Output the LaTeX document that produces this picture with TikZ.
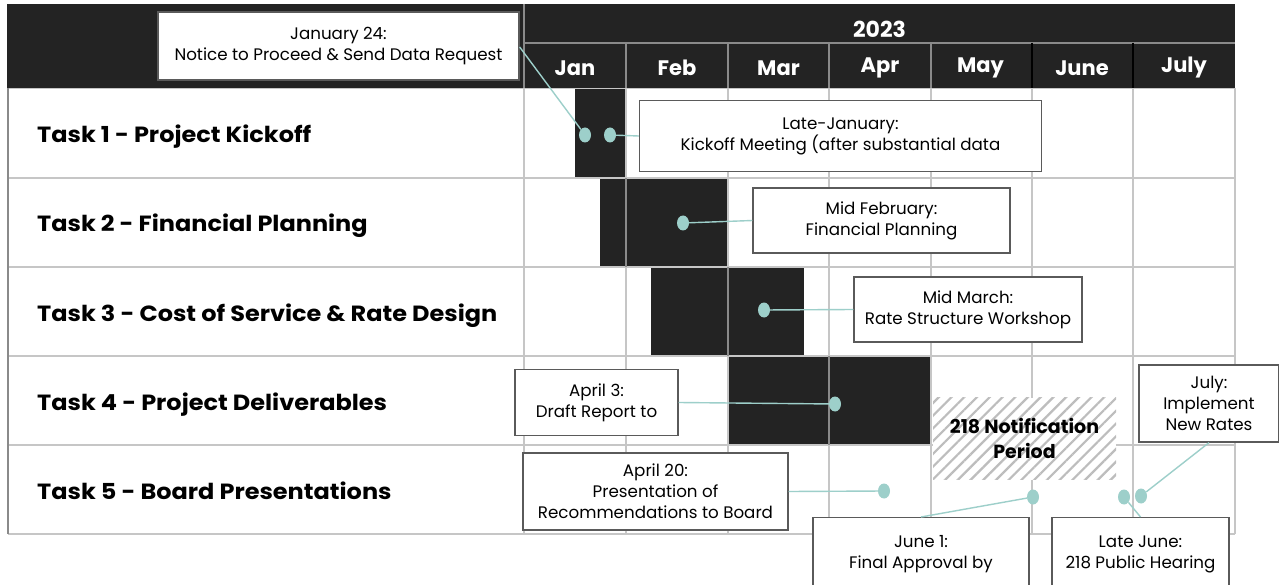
\documentclass[tikz,border=0pt]{standalone}
\usepackage{fontspec}
\setmainfont{Poppins}
\newfontfamily\taskfont[FakeStretch=1.09]{Poppins}
\usetikzlibrary{shapes.geometric,patterns.meta}
\definecolor{ink}{HTML}{232323}
\definecolor{gridc}{HTML}{C6C6C6}
\definecolor{gridd}{HTML}{8A8A8A}
\definecolor{teal}{HTML}{9DCFCA}
\definecolor{boxline}{HTML}{5A5A5A}
\definecolor{hatchc}{HTML}{BDBDBD}
\begin{document}
\begin{tikzpicture}[x=1pt,y=-1pt,
  tasklabel/.style={anchor=base west,inner sep=0pt,font=\taskfont\fontsize{22}{22}\selectfont\bfseries},
  month/.style={text=white,inner sep=0pt,font=\fontsize{21}{21}\selectfont\bfseries},
  callout/.style={draw=boxline,line width=1.3pt,fill=white,align=center,inner sep=0pt,
    font=\fontsize{16.7}{21}\selectfont},
  hatched/.style={preaction={fill=white},pattern={Lines[angle=45,distance=9pt,line width=2.2pt]},
    pattern color=hatchc,align=center,inner sep=0pt,font=\fontsize{19}{25}\selectfont\bfseries},
  dot/.style={ellipse,fill=teal,minimum width=12pt,minimum height=15pt,inner sep=0pt},
  link/.style={draw=teal,line width=1.4pt},
  gridline/.style={draw=gridc,line width=1.4pt},
  headline/.style={draw=gridd,line width=1.2pt}]
\useasboundingbox (0,0) rectangle (1279,585);
\clip (0,0) rectangle (1279,585);
\fill[white] (0,0) rectangle (1279,585);

% task bars
\fill[ink] (575,88) rectangle (626,178);
\fill[ink] (600,178) rectangle (728,267);
\fill[ink] (651,267) rectangle (804,356);
\fill[ink] (728,356) rectangle (931,445);

% body grid
\foreach \yy in {88,178,267,356,445,534}
  \draw[gridline] (8,\yy) -- (1235,\yy);
\foreach \xx in {524,626,728,829,931,1032,1133,1235}
  \draw[gridline] (\xx,88) -- (\xx,534);
\draw[headline] (8,88) -- (8,534);
\draw[gridd,line width=1.2pt] (626,178) -- (626,267) (728,267) -- (728,356) (829,356) -- (829,445);

% header band
\fill[ink] (7,4) rectangle (1235,88);
\draw[headline] (524,4) -- (524,88) (524,43) -- (1235,43);
\foreach \xx in {626,728,829,931}
  \draw[headline] (\xx,43) -- (\xx,88);
\draw[black,line width=1.2pt] (1032,43) -- (1032,88) (1133,43) -- (1133,88);

\node[month,font=\fontsize{22}{22}\selectfont\bfseries] (yr) at (879.5,29) {2023};
\node[month] (m1) at (575,68) {Jan};
\node[month] (m2) at (677,68) {Feb};
\node[month] (m3) at (778.5,68) {Mar};
\node[month] (m4) at (880,68) {Apr};
\node[month] (m5) at (980.5,68) {May};
\node[month] (m6) at (1082,68) {June};
\node[month] (m7) at (1184,68) {July};

% task names
\node[tasklabel] (t1) at (37,143) {Task 1 - Project Kickoff};
\node[tasklabel] (t2) at (37,232) {Task 2 - Financial Planning};
\node[tasklabel] (t3) at (37,321) {Task 3 - Cost of Service \& Rate Design};
\node[tasklabel] (t4) at (37,410) {Task 4 - Project Deliverables};
\node[tasklabel] (t5) at (37,499) {Task 5 - Board Presentations};

% milestone dots
\node[dot] (d1) at (585,135) {};
\node[dot] (d2) at (610,135) {};
\node[dot] (d3) at (683,223) {};
\node[dot] (d4) at (764,310) {};
\node[dot] (d5) at (835,404) {};
\node[dot] (d6) at (884,491) {};
\node[dot] (d7) at (1033,497) {};
\node[dot] (d8) at (1124,497) {};
\node[dot] (d9) at (1141,496) {};

% notification window
\node[hatched,minimum width=183pt,minimum height=82pt] (np) at (1024.5,438.5) {218 Notification\\Period};

% callouts
\node[callout,minimum width=361pt,minimum height=68pt] (c1) at (338.5,46) {January 24:\\Notice to Proceed \& Send Data Request};
\node[callout,minimum width=402pt,minimum height=71pt] (c2) at (840.5,136) {Late-January:\\Kickoff Meeting (after substantial data};
\node[callout,minimum width=257pt,minimum height=65pt] (c3) at (881.5,220.5) {Mid February:\\Financial Planning};
\node[callout,minimum width=228pt,minimum height=65pt] (c4) at (968,309.5) {Mid March:\\Rate Structure Workshop};
\node[callout,minimum width=163pt,minimum height=66pt] (c5) at (596.5,402.5) {April 3:\\Draft Report to};
\node[callout,minimum width=265pt,minimum height=77pt] (c6) at (655.5,491.5) {April 20:\\Presentation of\\Recommendations to Board};
\node[callout,minimum width=216pt,minimum height=73pt,anchor=north] (c7) at (921,517) {June 1:\\Final Approval by};
\node[callout,minimum width=177pt,minimum height=73pt,anchor=north] (c8) at (1140.5,517) {Late June:\\218 Public Hearing};
\node[callout,minimum width=140pt,minimum height=77pt] (c9) at (1209,403.5) {July:\\Implement\\New Rates};

% leader lines
\draw[link] (c1.east) ++(0,1) -- (d1);
\draw[link] (c2.west) -- (d2);
\draw[link] (c3.west) -- (d3);
\draw[link] (c4.west) -- (d4);
\draw[link] (c5.east) -- (d5);
\draw[link] (c6.east) -- (d6);
\draw[link] (c7.north) -- (d7);
\draw[link] (c8.north) -- (d8);
\draw[link] (c9.south) -- (d9);
\end{tikzpicture}
\end{document}
